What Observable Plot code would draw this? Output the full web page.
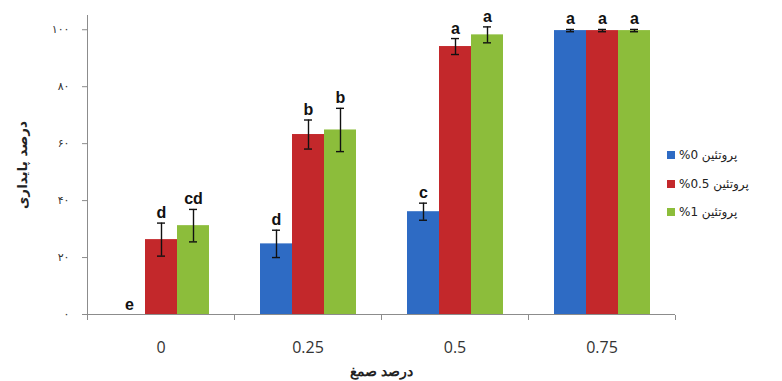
<!DOCTYPE html>
<html>
<head>
<meta charset="utf-8">
<script src="https://cdn.jsdelivr.net/npm/d3@7"></script>
<script src="https://cdn.jsdelivr.net/npm/@observablehq/plot@0.6"></script>
<style>
  body { margin: 0; background: #fff; }
  #wrap { position: relative; width: 782px; height: 381px; }
  #legend { position: absolute; left: 667px; top: 141px; font: 12px "DejaVu Sans", sans-serif; color: #222; }
  #legend .item { display: flex; align-items: center; height: 28.5px; }
  #legend .sw { width: 8px; height: 8px; margin-right: 4px; }
  [aria-label="fx-axis label"] text, [aria-label="y-axis label"] text { font-weight: bold; font-size: 13.5px; fill: #222; }
</style>
</head>
<body>
<div id="wrap"><div id="legend"></div></div>
<script>
// Gum level (x groups) and protein level (series)
const gumLevels = ["0", "0.25", "0.5", "0.75"];
const proteinLevels = ["%0 پروتئین", "%0.5 پروتئین", "%1 پروتئین"];
const seriesColors = ["#2e6bc4", "#c3282b", "#8cbd3b"];

// Stability (%) means, error bars and significance letters per protein level
const protein0Mean = [0, 24.8, 36.1, 99.7];
const protein0Err = [0, 4.8, 3.0, 0.4];
const protein0Letters = ["e", "d", "c", "a"];

const protein05Mean = [26.3, 63.2, 94.1, 99.7];
const protein05Err = [5.8, 5.1, 2.8, 0.4];
const protein05Letters = ["d", "b", "a", "a"];

const protein1Mean = [31.2, 64.8, 98.2, 99.7];
const protein1Err = [5.7, 7.6, 2.8, 0.4];
const protein1Letters = ["cd", "b", "a", "a"];

const yTicks = [0, 20, 40, 60, 80, 100];

const seriesData = [
  [protein0Mean, protein0Err, protein0Letters],
  [protein05Mean, protein05Err, protein05Letters],
  [protein1Mean, protein1Err, protein1Letters]
];

const rows = [];
seriesData.forEach(([means, errs, letters], s) => {
  gumLevels.forEach((gum, g) => {
    rows.push({
      gum,
      protein: proteinLevels[s],
      mean: means[g],
      lo: means[g] - errs[g],
      hi: means[g] + errs[g],
      letter: letters[g],
      err: errs[g]
    });
  });
});
const errRows = rows.filter(d => d.err > 0);

const persianDigits = d => String(d).replace(/\d/g, c => "۰۱۲۳۴۵۶۷۸۹"[+c]);

// small downward ticks at the edges of each gum group on the x axis
function groupEdgeTicks(index, scales, values, dims, context, next) {
  const g = next(index, scales, values, dims, context);
  const y0 = dims.height - dims.marginBottom + 0.5;
  for (const x of [dims.marginLeft, dims.width - dims.marginRight]) {
    const line = context.document.createElementNS("http://www.w3.org/2000/svg", "line");
    line.setAttribute("x1", x + 0.5);
    line.setAttribute("x2", x + 0.5);
    line.setAttribute("y1", y0);
    line.setAttribute("y2", y0 + 5);
    line.setAttribute("stroke", "#8c8c8c");
    g.appendChild(line);
  }
  return g;
}

const chart = Plot.plot({
  width: 782,
  height: 381,
  marginLeft: 86,
  marginRight: 107,
  marginTop: 15,
  marginBottom: 67,
  style: { fontFamily: "DejaVu Sans, sans-serif", background: "white", color: "#333" },
  fx: { domain: gumLevels, padding: 0, label: "درصد صمغ" },
  x: { domain: proteinLevels, paddingInner: 0, paddingOuter: 0.76, axis: null },
  y: { domain: [0, 105], label: "درصد پایداری" },
  color: { domain: proteinLevels, range: seriesColors },
  marks: [
    Plot.frame({ anchor: "left", facetAnchor: "left", stroke: "#8c8c8c" }),
    Plot.barY(rows, { fx: "gum", x: "protein", y: "mean", fill: "protein" }),
    Plot.ruleY([0], { stroke: "#8c8c8c", render: groupEdgeTicks }),
    Plot.ruleX(errRows, { fx: "gum", x: "protein", y1: "lo", y2: "hi", stroke: "#111", strokeWidth: 1.4 }),
    Plot.tickY(errRows, { fx: "gum", x: "protein", y: "lo", stroke: "#111", strokeWidth: 1.4, insetLeft: 12, insetRight: 12 }),
    Plot.tickY(errRows, { fx: "gum", x: "protein", y: "hi", stroke: "#111", strokeWidth: 1.4, insetLeft: 12, insetRight: 12 }),
    Plot.text(rows, {
      fx: "gum", x: "protein", y: "hi", text: "letter",
      lineAnchor: "bottom", dy: -5,
      fontSize: 16, fontWeight: "bold", fontFamily: "Liberation Sans, Arial, sans-serif", fill: "#111"
    }),
    Plot.axisY({
      ticks: yTicks, tickFormat: persianDigits, tickSize: 5, tickPadding: 13,
      fontSize: 11, stroke: "#8c8c8c", color: "#333",
      label: "درصد پایداری", labelAnchor: "center", labelOffset: 70, labelArrow: "none"
    }),
    Plot.axisFx({
      anchor: "bottom",
      tickSize: 0, tickPadding: 27, fontSize: 16, fontFamily: "Open Sans, sans-serif", color: "#333",
      label: "درصد صمغ", labelAnchor: "center", labelOffset: 61, labelArrow: "none"
    })
  ]
});

const wrap = document.getElementById("wrap");
wrap.insertBefore(chart, wrap.firstChild);

// legend on the right
const legend = d3.select("#legend");
proteinLevels.forEach((name, i) => {
  const item = legend.append("div").attr("class", "item");
  item.append("div").attr("class", "sw").style("background", seriesColors[i]);
  item.append("span").attr("dir", "ltr").text(name);
});
</script>
</body>
</html>
